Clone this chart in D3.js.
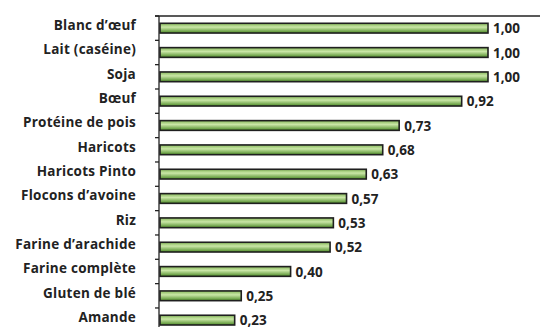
<!DOCTYPE html>
<html>
<head>
<meta charset="utf-8">
<script src="https://cdn.jsdelivr.net/npm/d3@7"></script>
<style>
  body { margin: 0; background: #fff; }
  svg text { font-family: "Open Sans", sans-serif; font-weight: 700; fill: #222; }
</style>
</head>
<body>
<script>
// Valeurs
const aliments = ['Blanc d\u2019œuf', 'Lait (caséine)', 'Soja', 'Bœuf', 'Protéine de pois',
    'Haricots', 'Haricots Pinto', 'Flocons d\u2019avoine', 'Riz', 'Farine d\u2019arachide',
    'Farine complète', 'Gluten de blé', 'Amande'];
const scores = [1.00, 1.00, 1.00, 0.92, 0.73, 0.68, 0.63, 0.57, 0.53, 0.52, 0.40, 0.25, 0.23];

const WIDTH = 540,
    HEIGHT = 327;

const margin = {top: 16, left: 159};

const svg = d3.select('body')
    .append('svg')
        .attr('width', WIDTH)
        .attr('height', HEIGHT);

// dégradé vertical des barres
const grad = svg.append('defs').append('linearGradient')
    .attr('id', 'vert')
    .attr('x1', 0).attr('y1', 0).attr('x2', 0).attr('y2', 1);
grad.append('stop').attr('offset', '0%').attr('stop-color', '#86b85a');
grad.append('stop').attr('offset', '40%').attr('stop-color', '#c9e6a6');
grad.append('stop').attr('offset', '100%').attr('stop-color', '#4c8a26');

const g = svg.append('g')
    .attr('transform', `translate(${margin.left},${margin.top})`);

// échelle x : 1,00 -> 329 px
const xScale = d3.scaleLinear()
    .domain([0, 1])
    .range([0, 329]);

const yScale = d3.scaleBand()
    .domain(aliments)
    .range([0, 24.33 * aliments.length])
    .paddingInner(0.6)
    .paddingOuter(0.3);

// ligne du haut
g.append('line')
    .attr('x1', -4)
    .attr('x2', WIDTH - margin.left)
    .attr('y1', 0).attr('y2', 0)
    .attr('stroke', '#222')
    .attr('stroke-width', 1.3);

// axe vertical avec graduations entre catégories
const step = yScale.step();
g.append('line')
    .attr('x1', 0).attr('x2', 0)
    .attr('y1', 0).attr('y2', HEIGHT)
    .attr('stroke', '#222')
    .attr('stroke-width', 1.3);

g.selectAll('.tick')
    .data(d3.range(aliments.length + 1))
    .enter().append('line')
        .attr('class', 'tick')
        .attr('x1', -4).attr('x2', 0)
        .attr('y1', i => i * step).attr('y2', i => i * step)
        .attr('stroke', '#222')
        .attr('stroke-width', 1.3);

// barres
g.selectAll('.bar')
    .data(scores)
    .enter().append('rect')
        .attr('class', 'bar')
        .attr('x', 1)
        .attr('y', (d, i) => yScale(aliments[i]))
        .attr('width', d => xScale(d) - 1)
        .attr('height', yScale.bandwidth())
        .attr('fill', 'url(#vert)')
        .attr('stroke', '#1f1f1f')
        .attr('stroke-width', 1.6);

// étiquettes des catégories
g.selectAll('.cat')
    .data(aliments)
    .enter().append('text')
        .attr('class', 'cat')
        .attr('x', -23)
        .attr('y', d => yScale(d) + yScale.bandwidth() / 2 - 3)
        .attr('dy', '0.35em')
        .attr('text-anchor', 'end')
        .style('font-size', '13.5px')
        .style('letter-spacing', '0.25px')
        .text(d => d);

// valeurs
g.selectAll('.val')
    .data(scores)
    .enter().append('text')
        .attr('class', 'val')
        .attr('x', d => xScale(d) + 5)
        .attr('y', (d, i) => yScale(aliments[i]) + yScale.bandwidth() / 2 + 0.5)
        .attr('dy', '0.35em')
        .style('font-size', '13.5px')
        .text(d => d.toFixed(2).replace('.', ','));
</script>
</body>
</html>
